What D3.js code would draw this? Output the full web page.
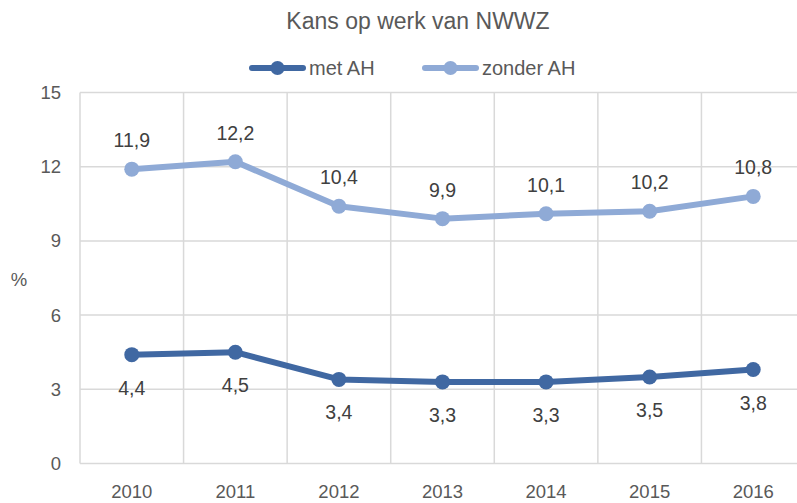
<!DOCTYPE html>
<html>
<head>
<meta charset="utf-8">
<script src="https://cdn.jsdelivr.net/npm/d3@7"></script>
<style>
  body { margin: 0; background: #fff; }
  svg { font-family: "Liberation Sans", Arial, sans-serif; }
</style>
</head>
<body>
<div id="chart"></div>
<script>
var years = ["2010", "2011", "2012", "2013", "2014", "2015", "2016"];
var metAH = [4.4, 4.5, 3.4, 3.3, 3.3, 3.5, 3.8];
var zonderAH = [11.9, 12.2, 10.4, 9.9, 10.1, 10.2, 10.8];
var yTicks = [0, 3, 6, 9, 12, 15];

var W = 797, H = 503;
var margin = {top: 92.5, right: -8, bottom: 39.5, left: 80};
var width = W - margin.left - margin.right,
    height = H - margin.top - margin.bottom;

var series = [
  {name: "met AH", values: metAH, color: "#4068a2", labelDy: 40},
  {name: "zonder AH", values: zonderAH, color: "#8faad6", labelDy: -22}
];

var svg = d3.select("#chart").append("svg")
    .attr("width", W).attr("height", H);

var g = svg.append("g")
    .attr("transform", "translate(" + margin.left + "," + margin.top + ")");

var x = d3.scaleBand().domain(years).range([0, width]);
var y = d3.scaleLinear().domain([0, 15]).range([height, 0]);

// horizontal grid
g.selectAll(".hgrid").data(yTicks).enter().append("line")
    .attr("x1", 0).attr("x2", width)
    .attr("y1", function(d) { return y(d); })
    .attr("y2", function(d) { return y(d); })
    .attr("stroke", "#d9d9d9").attr("stroke-width", 1.5);

// vertical grid at category boundaries
var bounds = years.map(function(d) { return x(d); }).concat([width]);
g.selectAll(".vgrid").data(bounds).enter().append("line")
    .attr("x1", function(d) { return d; }).attr("x2", function(d) { return d; })
    .attr("y1", 0).attr("y2", height)
    .attr("stroke", "#d9d9d9").attr("stroke-width", 1.5);

// y tick labels
g.selectAll(".ylab").data(yTicks).enter().append("text")
    .attr("x", -19)
    .attr("y", function(d) { return y(d); })
    .attr("dy", "0.35em")
    .attr("text-anchor", "end")
    .attr("fill", "#595959")
    .style("font-size", "18.5px")
    .text(function(d) { return d; });

// x tick labels
g.selectAll(".xlab").data(years).enter().append("text")
    .attr("x", function(d) { return x(d) + x.bandwidth() / 2; })
    .attr("y", height + 34.5)
    .attr("text-anchor", "middle")
    .attr("fill", "#595959")
    .style("font-size", "18.5px")
    .text(function(d) { return d; });

// y axis title
svg.append("text")
    .attr("x", 19).attr("y", 286)
    .attr("text-anchor", "middle")
    .attr("fill", "#595959")
    .style("font-size", "18.5px")
    .text("%");

// title
svg.append("text")
    .attr("x", 418).attr("y", 29)
    .attr("text-anchor", "middle")
    .attr("fill", "#595959")
    .style("font-size", "23px")
    .text("Kans op werk van NWWZ");

var line = d3.line()
    .x(function(d, i) { return x(years[i]) + x.bandwidth() / 2; })
    .y(function(d) { return y(d); });

series.forEach(function(s) {
  g.append("path")
      .attr("d", line(s.values))
      .attr("fill", "none")
      .attr("stroke", s.color)
      .attr("stroke-width", 6)
      .attr("stroke-linejoin", "round");
  g.selectAll(null).data(s.values).enter().append("circle")
      .attr("cx", function(d, i) { return x(years[i]) + x.bandwidth() / 2; })
      .attr("cy", function(d) { return y(d); })
      .attr("r", 7.5)
      .attr("fill", s.color);
  g.selectAll(null).data(s.values).enter().append("text")
      .attr("x", function(d, i) { return x(years[i]) + x.bandwidth() / 2; })
      .attr("y", function(d) { return y(d) + s.labelDy; })
      .attr("text-anchor", "middle")
      .attr("fill", "#404040")
      .style("font-size", "19.5px")
      .text(function(d) { return d.toFixed(1).replace(".", ","); });
});

// legend
var legendX = [250, 423];
var legend = svg.selectAll(".legend").data(series).enter().append("g")
    .attr("transform", function(d, i) { return "translate(" + legendX[i] + ",68)"; });
legend.append("line")
    .attr("x1", 2).attr("x2", 53).attr("y1", 0).attr("y2", 0)
    .attr("stroke", function(d) { return d.color; })
    .attr("stroke-width", 6).attr("stroke-linecap", "round");
legend.append("circle")
    .attr("cx", 27.5).attr("cy", 0).attr("r", 7)
    .attr("fill", function(d) { return d.color; });
legend.append("text")
    .attr("x", 59).attr("y", 0).attr("dy", "0.35em")
    .attr("fill", "#595959")
    .style("font-size", "20px")
    .text(function(d) { return d.name; });
</script>
</body>
</html>
